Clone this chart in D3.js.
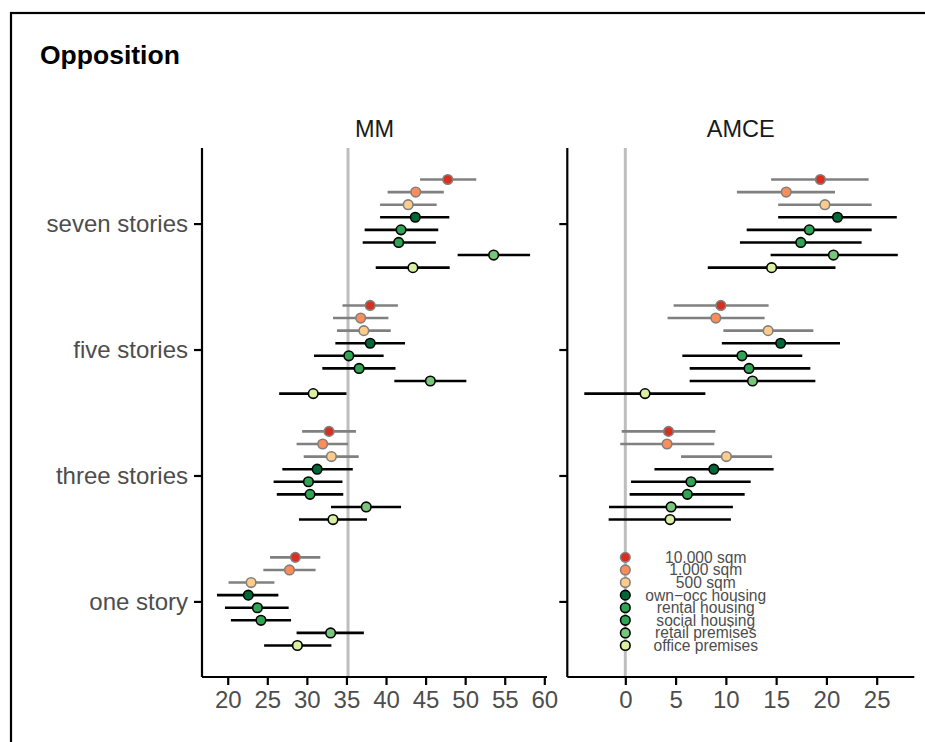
<!DOCTYPE html>
<html>
<head>
<meta charset="utf-8">
<script src="https://cdn.jsdelivr.net/npm/d3@7"></script>
<style>
  html, body { margin: 0; padding: 0; background: #fff; }
  svg { display: block; font-family: "Liberation Sans", Arial, Helvetica, sans-serif; }
</style>
</head>
<body>
<svg id="chart" width="925" height="742"></svg>
<script>
// ---------- data ----------
const categories = ["one story", "three stories", "five stories", "seven stories"];
const seriesNames = ["10.000 sqm", "1.000 sqm", "500 sqm", "own\u2212occ housing", "rental housing", "social housing", "retail premises", "office premises"];
const seriesColors = ["#d7301f", "#fc8d59", "#fdcc8a", "#006837", "#31a354", "#31a354", "#78c679", "#d9f0a3"];
const seriesGroup = ["size", "size", "size", "use", "use", "use", "use", "use"];

// MM estimates (per series, in category order)
const mmEst = [
  [28.55, 32.8, 38.0, 47.8],
  [27.8, 32.0, 36.8, 43.75],
  [22.95, 33.1, 37.2, 42.8],
  [22.6, 31.3, 38.0, 43.7],
  [23.75, 30.2, 35.3, 41.9],
  [24.2, 30.4, 36.6, 41.6],
  [33.0, 37.5, 45.6, 53.6],
  [28.8, 33.3, 30.8, 43.4]
];
const mmLow = [
  [25.35, 29.4, 34.5, 44.3],
  [24.5, 28.7, 33.3, 40.2],
  [20.1, 29.6, 33.8, 39.25],
  [18.65, 26.9, 33.6, 39.25],
  [19.65, 25.8, 30.9, 37.3],
  [20.4, 26.2, 31.95, 37.05],
  [28.7, 33.05, 41.05, 49.05],
  [24.6, 29.0, 26.5, 38.7]
];
const mmHigh = [
  [31.7, 36.2, 41.5, 51.4],
  [31.1, 35.2, 40.3, 47.3],
  [25.9, 36.55, 40.6, 46.4],
  [26.4, 35.8, 42.4, 48.0],
  [27.7, 34.5, 39.7, 46.6],
  [28.0, 34.6, 41.2, 46.3],
  [37.2, 41.9, 50.15, 58.2],
  [33.1, 37.6, 35.0, 48.05]
];
// AMCE estimates ("one story" is the reference level = 0)
const amceEst = [
  [0, 4.3, 9.5, 19.4],
  [0, 4.15, 9.0, 16.0],
  [0, 10.05, 14.2, 19.85],
  [0, 8.8, 15.45, 21.1],
  [0, 6.53, 11.6, 18.3],
  [0, 6.17, 12.3, 17.45],
  [0, 4.55, 12.65, 20.7],
  [0, 4.45, 1.96, 14.55]
];
const amceLow = [
  [0, -0.36, 4.8, 14.5],
  [0, -0.5, 4.2, 11.1],
  [0, 5.54, 9.75, 15.2],
  [0, 2.9, 9.6, 15.2],
  [0, 0.57, 5.67, 12.07],
  [0, 0.43, 6.4, 11.4],
  [0, -1.62, 6.4, 14.45],
  [0, -1.66, -4.08, 8.2]
];
const amceHigh = [
  [0, 8.95, 14.25, 24.2],
  [0, 8.85, 13.85, 20.85],
  [0, 14.6, 18.7, 24.5],
  [0, 14.75, 21.35, 27.0],
  [0, 12.47, 17.6, 24.5],
  [0, 11.87, 18.4, 23.5],
  [0, 10.7, 18.9, 27.1],
  [0, 10.5, 7.96, 20.9]
];
const mmTicks = [20, 25, 30, 35, 40, 45, 50, 55, 60];
const amceTicks = [0, 5, 10, 15, 20, 25];
const mmRefLine = 35.2;
const amceRefLine = 0;
const legendLabelX = 8;   // AMCE units, where reference-level labels sit
const mmDomain = [16.75, 60.34];
const amceDomain = [-5.77, 28.74];

// ---------- layout ----------
const svg = d3.select("#chart");
const plotTop = 148, plotBottom = 677;
const panels = [
  { name: "MM", x0: 202, x1: 547, domain: mmDomain, ticks: mmTicks, est: mmEst, lo: mmLow, hi: mmHigh, ref: mmRefLine, labels: true },
  { name: "AMCE", x0: 567.3, x1: 914.3, domain: amceDomain, ticks: amceTicks, est: amceEst, lo: amceLow, hi: amceHigh, ref: amceRefLine, labels: false }
];

// outer frame
svg.append("rect").attr("x", 11).attr("y", 13).attr("width", 1000).attr("height", 1000)
  .attr("fill", "none").attr("stroke", "#000").attr("stroke-width", 2.2);

// title
svg.append("text").attr("x", 40).attr("y", 64).text("Opposition")
  .attr("font-weight", "bold").attr("font-size", 26.5).attr("fill", "#000");

const y = d3.scaleLinear().domain([0.4, 4.6]).range([plotBottom, plotTop]);
const dodge = i => 0.35 - 0.1 * i;

panels.forEach(p => {
  const x = d3.scaleLinear().domain(p.domain).range([p.x0, p.x1]);
  const g = svg.append("g");

  // strip label
  g.append("text").attr("x", (p.x0 + p.x1) / 2).attr("y", 137)
    .attr("text-anchor", "middle").attr("font-size", 23.5).attr("fill", "#1a1a1a").text(p.name);

  // reference line
  g.append("line").attr("x1", x(p.ref)).attr("x2", x(p.ref)).attr("y1", plotTop).attr("y2", plotBottom)
    .attr("stroke", "#bebebe").attr("stroke-width", 3);

  // x axis
  const xAxis = d3.axisBottom(x).tickValues(p.ticks).tickSize(8).tickPadding(6).tickFormat(d3.format("d"));
  const xg = g.append("g").attr("transform", `translate(0,${plotBottom})`).call(xAxis);
  xg.select(".domain").attr("stroke", "#000").attr("stroke-width", 2.2).attr("d", `M${p.x0},0H${p.x1}`);
  xg.selectAll(".tick line").attr("stroke", "#000").attr("stroke-width", 2.2);
  xg.selectAll(".tick text").attr("font-size", 24).attr("fill", "#4d4d4d").attr("font-family", "Liberation Sans, Arial, sans-serif");

  // y axis
  const yAxis = d3.axisLeft(y).tickValues([1, 2, 3, 4]).tickSize(8).tickPadding(6)
    .tickFormat(d => p.labels ? categories[d - 1] : "");
  const yg = g.append("g").attr("transform", `translate(${p.x0},0)`).call(yAxis);
  yg.select(".domain").attr("stroke", "#000").attr("stroke-width", 2.2).attr("d", `M0,${plotTop}V${plotBottom}`);
  yg.selectAll(".tick line").attr("stroke", "#000").attr("stroke-width", 2.2);
  yg.selectAll(".tick text").attr("font-size", 24).attr("fill", "#4d4d4d").attr("font-family", "Liberation Sans, Arial, sans-serif");

  // data
  seriesNames.forEach((s, i) => {
    const lineCol = seriesGroup[i] === "size" ? "#808080" : "#000";
    categories.forEach((c, ci) => {
      const v = p.est[i][ci];
      if (v === null || v === undefined) return;
      const yy = y(ci + 1 + dodge(i));
      const lo = p.lo[i][ci], hi = p.hi[i][ci];
      if (hi > lo) {
        g.append("line").attr("x1", x(lo)).attr("x2", x(hi)).attr("y1", yy).attr("y2", yy)
          .attr("stroke", lineCol).attr("stroke-width", 2.6);
      }
      g.append("circle").attr("cx", x(v)).attr("cy", yy).attr("r", 4.8)
        .attr("fill", seriesColors[i]).attr("stroke", lineCol).attr("stroke-width", 1.6);
      if (!p.labels && ci === 0) {
        g.append("text").attr("x", x(legendLabelX)).attr("y", yy).attr("dy", "0.35em")
          .attr("text-anchor", "middle").attr("font-size", 15.6).attr("fill", "#4d4d4d").text(s);
      }
    });
  });
});
</script>
</body>
</html>
